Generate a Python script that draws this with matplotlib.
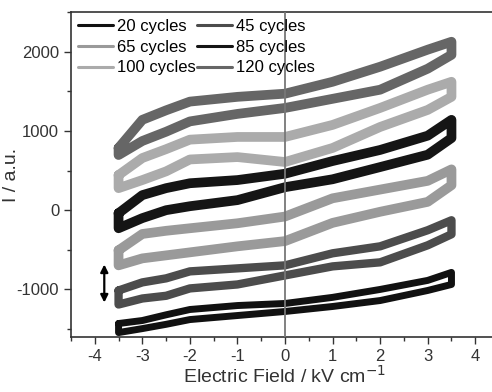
import numpy as np
import matplotlib
matplotlib.use("Agg")
import matplotlib.pyplot as plt
from matplotlib.ticker import MultipleLocator

plt.rcParams['font.family'] = ['Liberation Sans', 'DejaVu Sans']
plt.rcParams['axes.unicode_minus'] = False

E = [-3.5, -3, -2.5, -2, -1, 0, 1, 2, 3, 3.5]

# upper / lower branch of each loop (a.u.)
c20_up = [-1430, -1392, -1320, -1253, -1203, -1177, -1100, -1000, -886, -785]
c20_dn = [-1544, -1494, -1440, -1380, -1329, -1278, -1215, -1140, -1013, -937]
c45_up = [-1013, -911, -860, -772, -734, -696, -544, -456, -253, -127]
c45_dn = [-1190, -1114, -1080, -987, -937, -823, -709, -658, -443, -304]
c65_up = [-506, -300, -260, -228, -165, -80, 150, 260, 370, 515]
c65_dn = [-696, -608, -570, -532, -456, -390, -160, -20, 105, 315]
c85_up = [-38, 190, 278, 340, 380, 460, 620, 760, 940, 1140]
c85_dn = [-228, -100, 0, 50, 127, 290, 390, 544, 700, 910]
c100_up = [443, 658, 770, 890, 924, 924, 1076, 1290, 1520, 1620]
c100_dn = [278, 380, 490, 640, 670, 608, 785, 1050, 1265, 1430]
c120_up = [785, 1140, 1260, 1370, 1430, 1470, 1620, 1810, 2025, 2125]
c120_dn = [696, 873, 990, 1120, 1215, 1290, 1405, 1520, 1785, 1960]

labels = ["20 cycles", "45 cycles", "65 cycles", "85 cycles", "100 cycles", "120 cycles"]
ups = [c20_up, c45_up, c65_up, c85_up, c100_up, c120_up]
dns = [c20_dn, c45_dn, c65_dn, c85_dn, c100_dn, c120_dn]
colors = ["#111111", "#4c4c4c", "#9a9a9a", "#151515", "#ababab", "#666666"]
widths = [5, 6, 7, 7, 7, 7]

fig = plt.figure(figsize=(4.92, 3.92), dpi=100)
ax = fig.add_axes([0.1443, 0.1403, 0.870, 0.829])

lines = {}
for lab, up, dn, col, lw in zip(labels, ups, dns, colors, widths):
    x = E + E[::-1] + [E[0]]
    y = up + dn[::-1] + [up[0]]
    ln, = ax.plot(x, y, color=col, lw=lw, solid_joinstyle='round',
                  solid_capstyle='round', label=lab)
    lines[lab] = ln

ax.axvline(0, color="#777777", lw=1.3, zorder=5)

ax.annotate('', xy=(-3.8, -1200), xytext=(-3.8, -650),
            arrowprops=dict(arrowstyle='<|-|>', color='k', lw=1.6,
                            mutation_scale=11))

ax.set_xlim(-4.5, 4.5)
ax.set_ylim(-1600, 2500)
ax.xaxis.set_major_locator(MultipleLocator(1))
ax.xaxis.set_minor_locator(MultipleLocator(0.5))
ax.yaxis.set_major_locator(MultipleLocator(1000))
ax.yaxis.set_minor_locator(MultipleLocator(500))
ax.tick_params(which='major', direction='out', length=5, width=1,
               labelsize=12, colors='#333333')
ax.tick_params(which='minor', direction='out', length=3, width=1,
               colors='#333333')
for s in ax.spines.values():
    s.set_color('#333333')
    s.set_linewidth(1.2)

ax.set_xlabel("Electric Field / kV cm$^{-1}$", fontsize=14, color='#333333',
              labelpad=1)
ax.set_ylabel("I / a.u.", fontsize=14, color='#333333')
ax.yaxis.set_label_coords(-0.12, 0.5)

order = ["20 cycles", "65 cycles", "100 cycles", "45 cycles", "85 cycles", "120 cycles"]
leg = ax.legend([lines[k] for k in order], order, ncol=2, loc='upper left',
                bbox_to_anchor=(0, 1), frameon=False, fontsize=12,
                handlelength=2.1, handletextpad=0.25, columnspacing=0.1,
                labelspacing=0.35, borderaxespad=0.05, borderpad=0.35)
for h in leg.legend_handles:
    h.set_linewidth(2.2)

fig.savefig("out.png", dpi=100)
